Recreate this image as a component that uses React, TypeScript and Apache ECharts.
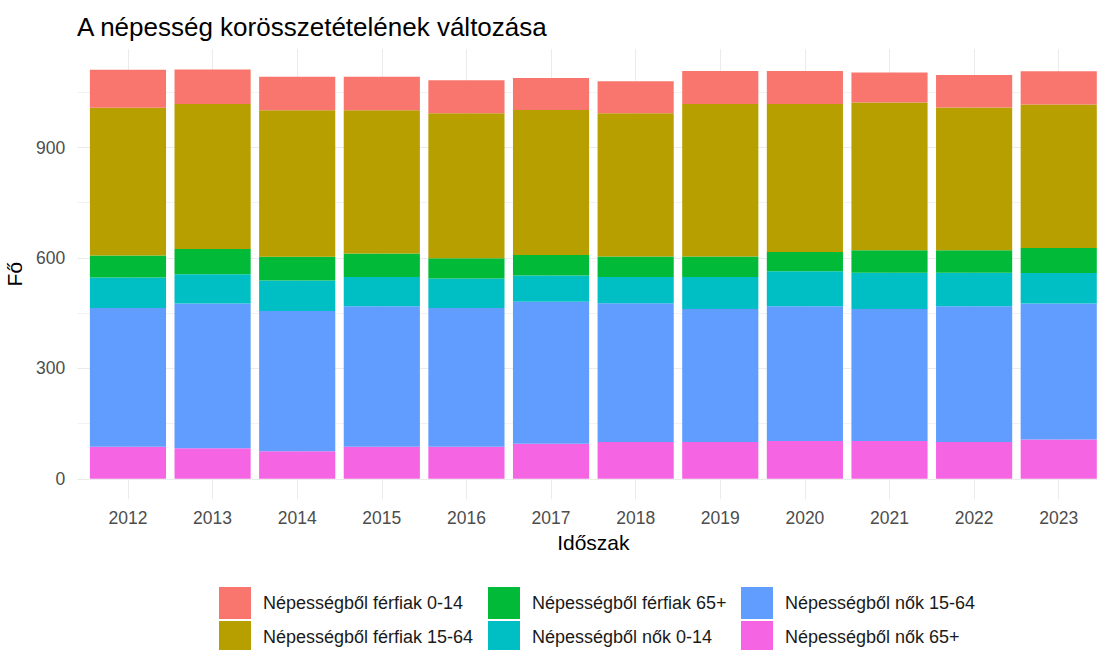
import React, { useEffect, useRef } from "react";
import * as echarts from "echarts";

const years = ["2012", "2013", "2014", "2015", "2016", "2017", "2018", "2019", "2020", "2021", "2022", "2023"];

const ferfiak0_14 = [103, 94, 91, 91, 90, 87, 87, 90, 90, 82, 88, 90];
const ferfiak15_64 = [401, 394, 398, 389, 394, 394, 389, 414, 402, 401, 388, 390];
const ferfiak65 = [60, 68, 64, 64, 55, 56, 56, 56, 52, 61, 61, 68];
const nok0_14 = [83, 80, 83, 79, 80, 71, 71, 87, 95, 99, 91, 83];
const nok15_64 = [377, 393, 381, 382, 377, 386, 377, 361, 366, 358, 369, 369];
const nok65 = [87, 83, 75, 87, 87, 95, 100, 100, 103, 103, 100, 107];

const yLabelTicks = [0, 300, 600, 900];
const yGridTicks = [0, 150, 300, 450, 600, 750, 900, 1050];

const seriesDefs = [
  { name: "Népességből nők 65+", data: nok65, color: "#F564E3" },
  { name: "Népességből nők 15-64", data: nok15_64, color: "#619CFF" },
  { name: "Népességből nők 0-14", data: nok0_14, color: "#00BFC4" },
  { name: "Népességből férfiak 65+", data: ferfiak65, color: "#00BA38" },
  { name: "Népességből férfiak 15-64", data: ferfiak15_64, color: "#B79F00" },
  { name: "Népességből férfiak 0-14", data: ferfiak0_14, color: "#F8766D" },
];

const legendColumns = [
  ["Népességből férfiak 0-14", "Népességből férfiak 15-64"],
  ["Népességből férfiak 65+", "Népességből nők 0-14"],
  ["Népességből nők 15-64", "Népességből nők 65+"],
];

const FONT = "'Liberation Sans', Arial, sans-serif";

export default function App() {
  const ref = useRef<HTMLDivElement>(null);
  useEffect(() => {
    if (!ref.current) return;
    const chart = echarts.init(ref.current, undefined, { renderer: "svg" });
    const n = years.length;
    const idx = years.map((_, i) => i);
    const totals = idx.map((i) => seriesDefs.reduce((s, d) => s + d.data[i], 0));
    const maxTotal = Math.max(...totals);
    const yMin = -0.05 * maxTotal;
    const yMax = 1.05 * maxTotal;

    // ggplot-like panel: discrete axis expanded by 0.6 on both sides
    const panelLeft = 77.2;
    const panelWidth = 1032.3;
    const panelTop = 49;
    const panelHeight = 450.3;
    const step = panelWidth / (n - 1 + 1.2);
    const barsLeft = panelLeft + 0.1 * step;
    const barsWidth = n * step;

    const legendLefts = [219, 488, 741];

    chart.setOption({
      animation: false,
      backgroundColor: "#FFFFFF",
      textStyle: { fontFamily: FONT },
      title: {
        text: "A népesség korösszetételének változása",
        left: 77,
        top: 14,
        padding: 0,
        textStyle: { fontSize: 26, fontWeight: "normal", color: "#000000", fontFamily: FONT },
      },
      grid: [
        { left: panelLeft, top: panelTop, width: panelWidth, height: panelHeight, outerBoundsMode: "none", containLabel: false },
        { left: barsLeft, top: panelTop, width: barsWidth, height: panelHeight, outerBoundsMode: "none", containLabel: false },
      ],
      legend: legendColumns.map((names, k) => ({
        orient: "vertical",
        left: legendLefts[k],
        top: 587,
        height: 90,
        width: 300,
        icon: "rect",
        itemWidth: 32,
        itemHeight: 32,
        itemGap: 2,
        padding: 0,
        selectedMode: false,
        data: names,
        textStyle: { fontSize: 18, color: "#1A1A1A", fontFamily: FONT, padding: [0, 0, 0, 7] },
      })),
      xAxis: [
        {
          gridIndex: 0,
          type: "value",
          min: -0.6,
          max: n - 1 + 0.6,
          axisLine: { show: false },
          axisTick: { show: false, customValues: idx },
          axisLabel: { show: false },
          splitLine: { show: true, lineStyle: { color: "#EBEBEB", width: 1 } },
        },
        {
          gridIndex: 1,
          type: "category",
          data: years,
          axisLine: { show: false },
          axisTick: { show: false },
          axisLabel: { fontSize: 17.5, color: "#4D4D4D", margin: 10, fontFamily: FONT },
          splitLine: { show: false },
          name: "Időszak",
          nameLocation: "middle",
          nameGap: 33,
          nameTextStyle: { fontSize: 21, color: "#000000", fontFamily: FONT },
        },
      ],
      yAxis: [
        {
          gridIndex: 0,
          type: "value",
          min: yMin,
          max: yMax,
          axisLine: { show: false },
          axisTick: { show: false, customValues: yGridTicks },
          axisLabel: { customValues: yLabelTicks, fontSize: 17.5, color: "#4D4D4D", margin: 12, fontFamily: FONT },
          splitLine: { show: true, lineStyle: { color: ["#EBEBEB", "#F2F2F2"], width: 1 } },
          name: "Fő",
          nameLocation: "middle",
          nameGap: 46,
          nameRotate: 90,
          nameTextStyle: { fontSize: 21, color: "#000000", fontFamily: FONT },
        },
        {
          gridIndex: 1,
          type: "value",
          min: yMin,
          max: yMax,
          show: false,
          splitLine: { show: false },
        },
      ],
      series: seriesDefs.map((d) => ({
        name: d.name,
        type: "bar",
        stack: "total",
        xAxisIndex: 1,
        yAxisIndex: 1,
        barWidth: "90%",
        data: d.data,
        itemStyle: { color: d.color },
        emphasis: { disabled: true },
      })),
    });
    return () => chart.dispose();
  }, []);
  // The ggplot panel runs slightly past the right edge of the 1097px picture,
  // so the chart canvas is a little wider than the window.
  return <div ref={ref} style={{ position: "fixed", left: 0, top: 0, width: 1120, height: 650 }} />;
}
